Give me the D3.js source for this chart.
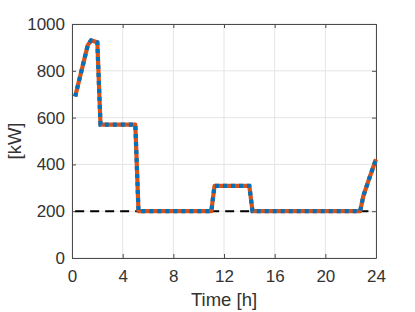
<!DOCTYPE html>
<html>
<head>
<meta charset="utf-8">
<script src="https://cdn.jsdelivr.net/npm/d3@7"></script>
<style>
    body { margin: 0; background: #fff; }
    svg { display: block; font-family: "Liberation Sans", Arial, sans-serif; }
</style>
</head>
<body>
<div id="chart"></div>
<script>
// Potencia [kW] cada cuarto de hora (puntos de quiebre)
const timeH  = [0.25, 1.25, 1.5, 2.0, 2.25, 5.0, 5.25, 11.0, 11.25, 14.0, 14.25, 22.75, 23.0, 23.25, 23.5, 24.0];
const powerKW = [690, 910, 930, 922, 570, 570, 200, 200, 308, 308, 200, 200, 265, 305, 345, 422];

// Linea de referencia (discontinua)
const refTime = [0.25, 23.4];
const refKW = [200, 200];

const xTicks = [0, 4, 8, 12, 16, 20, 24];
const yTicks = [0, 200, 400, 600, 800, 1000];

function drawChart(id) {
    const width = 415;
    const height = 312;
    const margin = { top: 24, right: 39, bottom: 54, left: 72 };
    const innerW = width - margin.left - margin.right;
    const innerH = height - margin.top - margin.bottom;

    const svg = d3.select(document.getElementById(id)).append("svg")
        .attr("width", width)
        .attr("height", height);

    const x = d3.scaleLinear().domain([0, 24]).range([margin.left, margin.left + innerW]);
    const y = d3.scaleLinear().domain([0, 1000]).range([margin.top + innerH, margin.top]);

    // rejilla
    const grid = svg.append("g").attr("stroke", "#e4e4e4").attr("stroke-width", 1);
    grid.selectAll(".gx").data(xTicks).enter().append("line")
        .attr("x1", d => x(d)).attr("x2", d => x(d))
        .attr("y1", y(0)).attr("y2", y(1000));
    grid.selectAll(".gy").data(yTicks).enter().append("line")
        .attr("x1", x(0)).attr("x2", x(24))
        .attr("y1", d => y(d)).attr("y2", d => y(d));

    // ejes con marcas hacia dentro
    const tickLen = 4;
    const axisColor = "#4a4a4a";
    const fmt = d3.format("d");
    const bottom = svg.append("g").attr("transform", `translate(0,${y(0)})`)
        .call(d3.axisBottom(x).tickValues(xTicks).tickFormat(fmt).tickSizeInner(-tickLen).tickSizeOuter(0).tickPadding(12));
    const top = svg.append("g").attr("transform", `translate(0,${y(1000)})`)
        .call(d3.axisTop(x).tickValues(xTicks).tickSizeInner(-tickLen).tickSizeOuter(0).tickFormat(""));
    const left = svg.append("g").attr("transform", `translate(${x(0)},0)`)
        .call(d3.axisLeft(y).tickValues(yTicks).tickFormat(fmt).tickSizeInner(-tickLen).tickSizeOuter(0).tickPadding(7));
    const right = svg.append("g").attr("transform", `translate(${x(24)},0)`)
        .call(d3.axisRight(y).tickValues(yTicks).tickSizeInner(-tickLen).tickSizeOuter(0).tickFormat(""));

    [bottom, top, left, right].forEach(g => {
        g.select(".domain").attr("stroke", axisColor).attr("stroke-width", 1);
        g.selectAll(".tick line").attr("stroke", axisColor);
        g.selectAll(".tick text")
            .attr("fill", "#333")
            .style("font-size", "17px")
            .style("font-family", "'Liberation Sans', Arial, sans-serif");
    });

    // linea de referencia
    const ref = refTime.map((t, i) => [t, refKW[i]]);
    svg.append("path")
        .datum(ref)
        .attr("fill", "none")
        .attr("stroke", "#000")
        .attr("stroke-width", 2)
        .attr("stroke-dasharray", "9,6")
        .attr("d", d3.line().x(d => x(d[0])).y(d => y(d[1])));

    // serie principal: naranja continua + azul punteada encima
    const pts = timeH.map((t, i) => [t, powerKW[i]]);
    const line = d3.line().x(d => x(d[0])).y(d => y(d[1]));
    svg.append("path")
        .datum(pts)
        .attr("fill", "none")
        .attr("stroke", "#D95319")
        .attr("stroke-width", 4.2)
        .attr("stroke-linejoin", "round")
        .attr("d", line);
    svg.append("path")
        .datum(pts)
        .attr("fill", "none")
        .attr("stroke", "#0072BD")
        .attr("stroke-width", 4.2)
        .attr("stroke-dasharray", "4,4")
        .attr("d", line);

    // etiquetas de ejes
    svg.append("text")
        .attr("x", x(12))
        .attr("y", 306)
        .attr("text-anchor", "middle")
        .attr("fill", "#333")
        .style("font-size", "18.5px")
        .text("Time [h]");
    svg.append("text")
        .attr("transform", `translate(21,${(y(0) + y(1000)) / 2}) rotate(-90)`)
        .attr("text-anchor", "middle")
        .attr("fill", "#333")
        .style("font-size", "18.5px")
        .text("[kW]");
}

drawChart("chart");
</script>
</body>
</html>
